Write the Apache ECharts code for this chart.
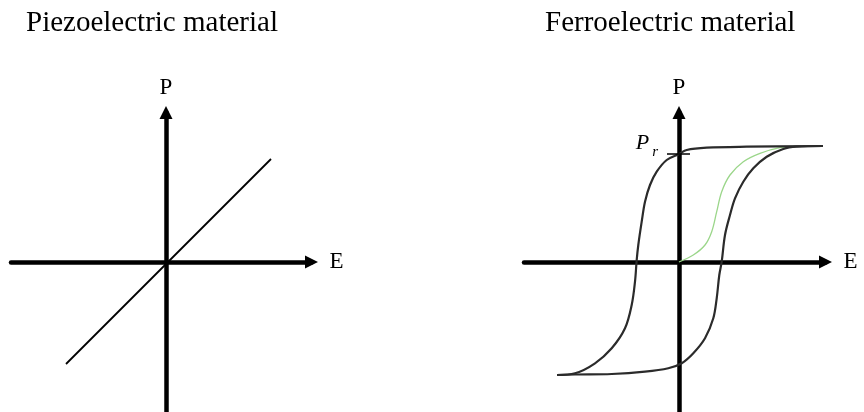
<!DOCTYPE html>
<html>
<head>
<meta charset="utf-8">
<script src="https://cdn.jsdelivr.net/npm/echarts@6/dist/echarts.min.js"></script>
<style>
  html, body { margin: 0; padding: 0; background: #fff; }
  #chart { width: 864px; height: 412px; }
</style>
</head>
<body>
<div id="chart"></div>
<script>
// panel titles
const titles = ["Piezoelectric material", "Ferroelectric material"];

// piezoelectric: straight line through origin
const piezoE = [-10, 10.5];
const piezoP = [-10.2, 10.3];

// ferroelectric hysteresis, upper branch (E decreasing)
const upperE = [14.4, 6.77, 2.77, 0.77, 0, -1.23, -2.23, -2.9, -3.4, -3.73, -4.07, -4.23, -4.4, -4.73, -5.4, -6.73, -8.4, -10.4, -12.2];
const upperP = [11.6, 11.53, 11.43, 11.2, 10.8, 10.2, 9.03, 7.7, 6.03, 4.03, 1.7, 0.2, -1.97, -4.3, -6.63, -8.63, -10.13, -11.13, -11.3];

// lower branch (E increasing)
const lowerE = [-12.2, -10.4, -6.73, -3.4, -1.07, 0.27, 1.43, 2.6, 3.43, 3.77, 4.03, 4.27, 4.6, 5.1, 5.6, 6.43, 7.43, 8.77, 10.43, 11.77, 14.4];
const lowerP = [-11.3, -11.25, -11.2, -10.97, -10.63, -10.13, -9.13, -7.63, -5.63, -3.63, -1.3, 0.03, 2.7, 4.7, 6.37, 8.03, 9.37, 10.53, 11.3, 11.53, 11.6];

// initial polarisation curve (green)
const virginE = [0, 1.43, 2.6, 3.27, 3.77, 4.27, 5.1, 6.43, 8.1, 10.1, 11.6];
const virginP = [0, 0.7, 1.7, 3.03, 5.03, 7.03, 8.7, 10.03, 10.87, 11.43, 11.55];

// remanent polarisation tick
const prE = [-1.2, 1.1];
const prP = [10.8, 10.8];

const serif = "Liberation Serif";

function zip(xs, ys) {
  return xs.map((x, i) => [x, ys[i]]);
}

function makeAxes(gridIndex, xMin, xMax) {
  const line = {
    show: true,
    onZero: true,
    symbol: ["none", "triangle"],
    symbolSize: [13, 13],
    lineStyle: { color: "#000", width: 4.5 },
  };
  const name = { fontFamily: serif, fontSize: 23, color: "#000" };
  return {
    x: {
      type: "value", gridIndex: gridIndex, min: xMin, max: xMax,
      name: "E", nameLocation: "end", nameGap: 18, nameTextStyle: name,
      axisLine: line, axisTick: { show: false }, axisLabel: { show: false }, splitLine: { show: false },
    },
    y: {
      type: "value", gridIndex: gridIndex, min: -15, max: 14.95,
      name: "P", nameLocation: "end", nameGap: 13, nameTextStyle: name,
      axisLine: line, axisTick: { show: false }, axisLabel: { show: false }, splitLine: { show: false },
    },
  };
}

const leftAxes = makeAxes(0, -15.5, 14.55);
const rightAxes = makeAxes(1, -15.5, 14.65);

const chart = echarts.init(document.getElementById("chart"));

const option = {
  backgroundColor: "#fff",
  animation: false,
  title: [
    { text: titles[0], left: 26, top: 9, padding: 0,
      textStyle: { fontFamily: serif, fontSize: 29, fontWeight: "normal", color: "#000" } },
    { text: titles[1], left: 545, top: 9, padding: 0,
      textStyle: { fontFamily: serif, fontSize: 29, fontWeight: "normal", color: "#000" } },
  ],
  grid: [
    { left: 11, top: 112.5, width: 300.5, height: 299.5 },
    { left: 524, top: 112.5, width: 301.5, height: 299.5 },
  ],
  xAxis: [leftAxes.x, rightAxes.x],
  yAxis: [leftAxes.y, rightAxes.y],
  series: [
    {
      type: "line", xAxisIndex: 0, yAxisIndex: 0,
      data: zip(piezoE, piezoP),
      showSymbol: false, lineStyle: { color: "#000", width: 1.8 },
    },
    {
      type: "line", xAxisIndex: 1, yAxisIndex: 1,
      data: zip(virginE, virginP), smooth: 0.35,
      showSymbol: false, lineStyle: { color: "#9bd68a", width: 1.3 },
    },
    {
      type: "line", xAxisIndex: 1, yAxisIndex: 1,
      data: zip(upperE, upperP), smooth: 0.35,
      showSymbol: false, lineStyle: { color: "#2b2b2b", width: 2.2 },
    },
    {
      type: "line", xAxisIndex: 1, yAxisIndex: 1,
      data: zip(lowerE, lowerP), smooth: 0.35,
      showSymbol: false, lineStyle: { color: "#2b2b2b", width: 2.2 },
    },
    {
      // Pr tick with its label
      type: "line", xAxisIndex: 1, yAxisIndex: 1,
      data: zip(prE, prP),
      symbol: "none", lineStyle: { color: "#000", width: 1.6 },
      markPoint: {
        symbol: "circle", symbolSize: 0,
        data: [{ coord: [prE[0], prP[0]] }],
        label: {
          show: true, position: "left", distance: 9, offset: [0, -8],
          formatter: "{p|P}{r|r}",
          rich: {
            p: { fontFamily: serif, fontStyle: "italic", fontSize: 22, color: "#000", verticalAlign: "top", lineHeight: 28 },
            r: { fontFamily: serif, fontStyle: "italic", fontSize: 15, color: "#000", verticalAlign: "bottom", lineHeight: 28, padding: [10, 0, 0, 3] },
          },
        },
      },
    },
  ],
};

chart.setOption(option);
</script>
</body>
</html>
